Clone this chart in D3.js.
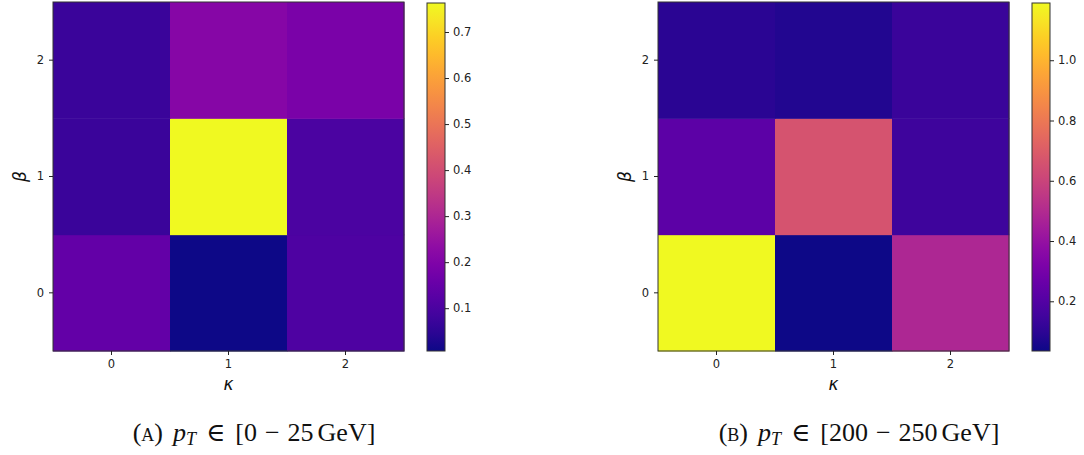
<!DOCTYPE html>
<html>
<head>
<meta charset="utf-8">
<script src="https://cdn.jsdelivr.net/npm/d3@7"></script>
<style>
  body { margin: 0; background: #fff; }
  svg { display: block; }
  .tick text { font-family: "DejaVu Sans", sans-serif; font-size: 11.5px; fill: #222; }
  .axislabel { font-family: "DejaVu Sans", sans-serif; font-style: italic; font-size: 17px; fill: #111; }
  .caption { font-family: "Liberation Serif", "DejaVu Serif", serif; font-size: 26px; fill: #111; }
</style>
</head>
<body>
<div id="chart"></div>
<script>
// kappa along x, beta along y (row 0 = beta 0)
const kappaLabels = [0, 1, 2];
const betaLabels = [0, 1, 2];

// pT in [0 - 25 GeV]
const valuesLow = [
  [0.143, 0.007, 0.105],   // beta = 0
  [0.071, 0.763, 0.100],   // beta = 1
  [0.071, 0.211, 0.188]    // beta = 2
];
const rangeLow = [0.007, 0.763];
const ticksLow = [0.1, 0.2, 0.3, 0.4, 0.5, 0.6, 0.7];

// pT in [200 - 250 GeV]
const valuesHigh = [
  [1.190, 0.035, 0.485],
  [0.226, 0.660, 0.139],
  [0.093, 0.075, 0.133]
];
const rangeHigh = [0.035, 1.19];
const ticksHigh = [0.2, 0.4, 0.6, 0.8, 1.0];

const captionLow = ['a', '0', '25'];
const captionHigh = ['b', '200', '250'];

const width = 1084, height = 455;
const svg = d3.select('#chart').append('svg').attr('width', width).attr('height', height);

const panels = [
  { left: 53, values: valuesLow, range: rangeLow, ticks: ticksLow, caption: captionLow, capX: 254, id: 'gl' },
  { left: 658, values: valuesHigh, range: rangeHigh, ticks: ticksHigh, caption: captionHigh, capX: 859, id: 'gh' }
];

const plotW = 351, plotH = 349, plotTop = 2;
const cbOffset = 374, cbW = 18;

panels.forEach(p => {
  const g = svg.append('g').attr('transform', `translate(${p.left},${plotTop})`);
  const x = d3.scaleBand().domain(kappaLabels).range([0, plotW]);
  const y = d3.scaleBand().domain(betaLabels).range([plotH, 0]);
  const color = d3.scaleSequential(d3.interpolatePlasma).domain(p.range);

  const cells = [];
  p.values.forEach((row, bi) => row.forEach((v, ki) => {
    cells.push({ k: kappaLabels[ki], b: betaLabels[bi], v: v });
  }));

  g.selectAll('.cell').data(cells).join('rect')
    .attr('class', 'cell')
    .attr('x', d => x(d.k))
    .attr('y', d => y(d.b))
    .attr('width', x.bandwidth() + 0.5)
    .attr('height', y.bandwidth() + 0.5)
    .attr('fill', d => color(d.v));

  g.append('rect')
    .attr('width', plotW).attr('height', plotH)
    .attr('fill', 'none').attr('stroke', '#333').attr('stroke-width', 1);

  const xAxis = g.append('g').attr('transform', `translate(0,${plotH})`)
    .call(d3.axisBottom(x).tickSize(4).tickPadding(5));
  const yAxis = g.append('g')
    .call(d3.axisLeft(y).tickSize(4).tickPadding(5));
  [xAxis, yAxis].forEach(a => {
    a.select('.domain').remove();
    a.selectAll('.tick line').attr('stroke', '#222');
  });

  g.append('text').attr('class', 'axislabel')
    .attr('x', plotW / 2).attr('y', plotH + 39)
    .attr('text-anchor', 'middle').text('\u03ba');
  g.append('text').attr('class', 'axislabel')
    .attr('transform', `translate(-27,${plotH / 2}) rotate(-90)`)
    .attr('text-anchor', 'middle').text('\u03b2');

  // colorbar
  const grad = svg.append('defs').append('linearGradient')
    .attr('id', p.id).attr('x1', 0).attr('y1', 1).attr('x2', 0).attr('y2', 0);
  d3.range(0, 1.0001, 0.05).forEach(t => {
    grad.append('stop').attr('offset', t).attr('stop-color', d3.interpolatePlasma(t));
  });
  const cb = g.append('g').attr('transform', `translate(${cbOffset},0)`);
  const cy = d3.scaleLinear().domain(p.range).range([plotH, 1]);
  cb.append('rect').attr('width', cbW).attr('y', 1).attr('height', plotH - 1)
    .attr('fill', `url(#${p.id})`).attr('stroke', '#333').attr('stroke-width', 1);
  const cAxis = cb.append('g').attr('transform', `translate(${cbW},0)`)
    .call(d3.axisRight(cy).tickValues(p.ticks).tickFormat(d3.format('.1f')).tickSize(4).tickPadding(4));
  cAxis.select('.domain').remove();
  cAxis.selectAll('.tick line').attr('stroke', '#222');

  // caption, with math-style spacing
  const cap = svg.append('text').attr('class', 'caption')
    .attr('x', p.capX).attr('y', 441).attr('text-anchor', 'middle');
  cap.append('tspan').text('(');
  cap.append('tspan').style('font-variant', 'small-caps').text(p.caption[0]);
  cap.append('tspan').text(')');
  cap.append('tspan').attr('dx', 10).style('font-style', 'italic').text('p');
  cap.append('tspan').style('font-style', 'italic').style('font-size', '18px').attr('dy', 4).text('T');
  cap.append('tspan').attr('dy', -4).attr('dx', 10).style('font-weight', 300).text('\u2208');
  cap.append('tspan').attr('dx', 10).text('[' + p.caption[1]);
  cap.append('tspan').attr('dx', 8).text('\u2212');
  cap.append('tspan').attr('dx', 8).text(p.caption[2]);
  cap.append('tspan').attr('dx', 4).text('GeV]');
});
</script>
</body>
</html>
